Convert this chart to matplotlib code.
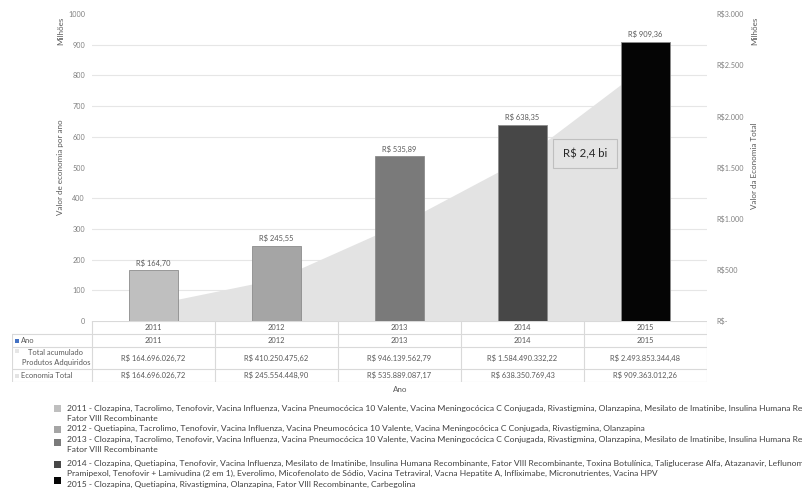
import numpy as np
import matplotlib
matplotlib.use("Agg")
import matplotlib.pyplot as plt
from matplotlib.patches import Rectangle
from matplotlib.ticker import FuncFormatter

plt.rcParams['font.family'] = ['Lato', 'DejaVu Sans']

# Dados (valores em milhões de R$)
ANOS = ['2011', '2012', '2013', '2014', '2015']
ECONOMIA_ANO = [164.70, 245.55, 535.89, 638.35, 909.36]
TOTAL_ACUMULADO = [164.696, 410.250, 946.140, 1584.490, 2493.853]
TABELA_TOTAL = ['R$ 164.696.026,72', 'R$ 410.250.475,62', 'R$ 946.139.562,79',
                'R$ 1.584.490.332,22', 'R$ 2.493.853.344,48']
TABELA_ECONOMIA = ['R$ 164.696.026,72', 'R$ 245.554.448,90', 'R$ 535.889.087,17',
                   'R$ 638.350.769,43', 'R$ 909.363.012,26']
CORES_BARRAS = ['#bfbfbf', '#a5a5a5', '#7a7a7a', '#474747', '#050505']
DESTAQUE = 'R$ 2,4 bi'

LEGENDA = [
    ['2011 - Clozapina, Tacrolimo, Tenofovir, Vacina Influenza, Vacina Pneumocócica 10 Valente, '
     'Vacina Meningocócica C Conjugada, Rivastigmina, Olanzapina, Mesilato de Imatinibe, '
     'Insulina Humana Recombinante,',
     'Fator VIII Recombinante'],
    ['2012 - Quetiapina, Tacrolimo, Tenofovir, Vacina Influenza, Vacina Pneumocócica 10 Valente, '
     'Vacina Meningocócica C Conjugada, Rivastigmina, Olanzapina'],
    ['2013 - Clozapina, Tacrolimo, Tenofovir, Vacina Influenza, Vacina Pneumocócica 10 Valente, '
     'Vacina Meningocócica C Conjugada, Rivastigmina, Olanzapina, Mesilato de Imatinibe, '
     'Insulina Humana Recombinante,',
     'Fator VIII Recombinante'],
    ['2014 - Clozapina, Quetiapina, Tenofovir, Vacina Influenza, Mesilato de Imatinibe, '
     'Insulina Humana Recombinante, Fator VIII Recombinante, Toxina Botulínica, '
     'Taliglucerase Alfa, Atazanavir, Leflunomida,',
     'Pramipexol, Tenofovir + Lamivudina (2 em 1), Everolimo, Micofenolato de Sódio, '
     'Vacina Tetraviral, Vacna Hepatite A, Infliximabe, Micronutrientes, Vacina HPV'],
    ['2015 - Clozapina, Quetiapina, Rivastigmina, Olanzapina, Fator VIII Recombinante, Carbegolina'],
]

W, H = 803, 491
CINZA_TEXTO = '#595959'
CINZA_TICK = '#808080'
CINZA_LINHA = '#d9d9d9'


def fx(x):
    return x / W


def fy(y):
    return 1 - y / H


fig = plt.figure(figsize=(W / 100, H / 100), dpi=100)

# ---- eixo da área (total acumulado, escala da direita) ----
ax_area = fig.add_axes([fx(92), fy(321), fx(707) - fx(92), fy(14) - fy(321)])
x = np.arange(len(ANOS))
ax_area.fill_between(x, TOTAL_ACUMULADO, color='#e3e3e3', lw=0, zorder=2)
ax_area.set_xlim(-0.5, len(ANOS) - 0.5)
ax_area.set_ylim(0, 3000)
ax_area.set_yticks(np.arange(0, 3001, 500))
ax_area.set_yticks(np.arange(0, 3001, 300), minor=True)
ax_area.grid(which='minor', axis='y', color='#e6e6e6', lw=0.8)
ax_area.set_axisbelow(True)
ax_area.set_xticks([])
for s in ax_area.spines.values():
    s.set_visible(False)

# ---- eixo das barras (economia por ano, escala da esquerda) ----
ax = ax_area.twinx()
ax.bar(x, ECONOMIA_ANO, width=0.4, color=CORES_BARRAS, edgecolor='#8c8c8c', lw=0.6, zorder=3)
for xi, v in zip(x, ECONOMIA_ANO):
    ax.text(xi, v + 12, 'R$ {:.2f}'.format(v).replace('.', ','), ha='center', va='bottom',
            fontsize=5.4, color=CINZA_TEXTO)
ax.set_ylim(0, 1000)
ax.set_yticks(np.arange(0, 1001, 100))
ax.set_xticks([])
for s in ax.spines.values():
    s.set_visible(False)

# escalas: barras à esquerda, total acumulado à direita
ax.yaxis.tick_left()
ax.tick_params(axis='y', length=0, pad=5, labelsize=5.2, labelcolor=CINZA_TICK)
ax_area.yaxis.tick_right()
ax_area.yaxis.set_major_formatter(FuncFormatter(
    lambda v, p: 'R$-' if v == 0 else 'R${:,.0f}'.format(v).replace(',', '.')))
ax_area.tick_params(axis='y', which='both', length=0, pad=6.5, labelsize=5.2, labelcolor=CINZA_TICK)

# títulos dos eixos
fig.text(fx(61), fy(31), 'Milhões', rotation=90, ha='center', va='center', fontsize=5.8, color=CINZA_TEXTO)
fig.text(fx(61), fy(167), 'Valor de economia por ano', rotation=90, ha='center', va='center',
         fontsize=5.8, color=CINZA_TEXTO)
fig.text(fx(755), fy(31), 'Milhões', rotation=90, ha='center', va='center', fontsize=5.8, color=CINZA_TEXTO)
fig.text(fx(755), fy(166), 'Valor da Economia Total', rotation=90, ha='center', va='center',
         fontsize=5.8, color=CINZA_TEXTO)

# caixa de destaque
fig.patches.append(Rectangle((fx(553), fy(168)), fx(617) - fx(553), fy(139) - fy(168),
                             transform=fig.transFigure, facecolor='#e4e4e4', edgecolor='#bfbfbf',
                             lw=0.8, zorder=5))
fig.text(fx(585), fy(153.5), DESTAQUE, ha='center', va='center', fontsize=8.2, color='#262626', zorder=6)

# ---- tabela de dados ----
col_esq = 80 / 123
tab = fig.add_axes([fx(12), fy(382), fx(707) - fx(12), fy(321) - fy(382)])
x0 = -0.5 - col_esq
tab.set_xlim(x0, len(ANOS) - 0.5)
tab.set_ylim(61, 0)
tab.axis('off')
tab.plot([-0.5, len(ANOS) - 0.5], [0, 0], color=CINZA_LINHA, lw=0.8)
for yl in [13, 26, 48, 61]:
    tab.plot([x0, len(ANOS) - 0.5], [yl, yl], color=CINZA_LINHA, lw=0.8)
tab.plot([x0, x0], [13, 61], color=CINZA_LINHA, lw=0.8)
for i in range(len(ANOS) + 1):
    tab.plot([i - 0.5, i - 0.5], [0, 61], color=CINZA_LINHA, lw=0.8)

fs_tab = 5.4
for i, ano in enumerate(ANOS):
    tab.text(i, 6.5, ano, ha='center', va='center', fontsize=fs_tab, color=CINZA_TEXTO)
    tab.text(i, 19.5, ano, ha='center', va='center', fontsize=fs_tab, color=CINZA_TEXTO)
    tab.text(i, 37, TABELA_TOTAL[i], ha='center', va='center', fontsize=fs_tab, color=CINZA_TEXTO)
    tab.text(i, 54.5, TABELA_ECONOMIA[i], ha='center', va='center', fontsize=fs_tab, color=CINZA_TEXTO)

u = 1 / 123  # um pixel em unidades de categoria
tab.add_patch(Rectangle((x0 + 3 * u, 17.5), 4 * u, 4, color='#4472c4', lw=0))
tab.add_patch(Rectangle((x0 + 3 * u, 28), 4 * u, 4, color='#e6e6e6', lw=0))
tab.add_patch(Rectangle((x0 + 3 * u, 53), 4 * u, 4, color='#e3e3e3', lw=0))
tab.text(x0 + 9 * u, 19.5, 'Ano', ha='left', va='center', fontsize=fs_tab, color=CINZA_TEXTO)
tab.text(x0 + 44 * u, 36.5, 'Total acumulado\nProdutos Adquiridos', ha='center', va='center',
         fontsize=fs_tab, color=CINZA_TEXTO, linespacing=1.45)
tab.text(x0 + 9 * u, 54.5, 'Economia Total', ha='left', va='center', fontsize=fs_tab, color=CINZA_TEXTO)

fig.text(fx(400), fy(390), 'Ano', ha='center', va='center', fontsize=5.8, color=CINZA_TEXTO)

# ---- legenda dos produtos ----
inicio_linhas = [408, 428, 439, 463, 484]
y_quadrados = [408, 429, 442, 464, 480]
for linhas, y_txt, y_q, cor in zip(LEGENDA, inicio_linhas, y_quadrados, CORES_BARRAS):
    fig.patches.append(Rectangle((fx(54), fy(y_q + 3.5)), fx(7), 7 / H, transform=fig.transFigure,
                                 facecolor=cor, edgecolor='none'))
    for k, linha in enumerate(linhas):
        fig.text(fx(67), fy(y_txt + k * 10.5), linha, ha='left', va='center', fontsize=6.1, color='#404040')

fig.savefig('out.png', dpi=100)
